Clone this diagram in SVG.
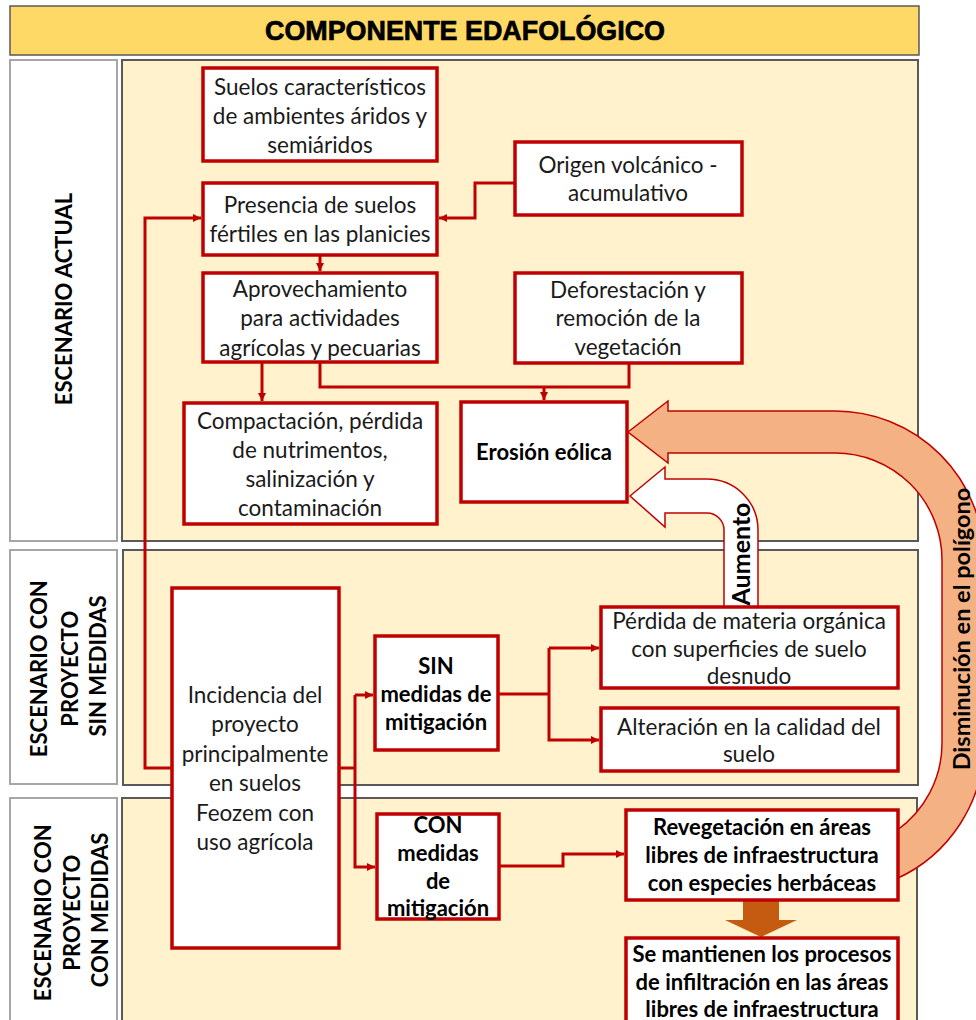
<svg xmlns="http://www.w3.org/2000/svg" width="976" height="1020" viewBox="0 0 976 1020">
  <defs>
    <marker id="arr" viewBox="0 0 8 8" refX="8" refY="4" markerWidth="8" markerHeight="8" markerUnits="userSpaceOnUse" orient="auto">
      <path d="M0,0 L8,4 L0,8 z" fill="#C00000"/>
    </marker>
    <style>
      .panel-label { fill: #ffffff; stroke: #a6a6a6; stroke-width: 2; }
      .panel { fill: #FFF2CC; stroke: #595959; stroke-width: 2; }
      .box { fill: #ffffff; stroke: #C00000; stroke-width: 3.5; }
      .conn { fill: none; stroke: #C00000; stroke-width: 3; marker-end: url(#arr); }
      .line { fill: none; stroke: #C00000; stroke-width: 3; }
      .t { font-family: Lato, "Open Sans", "Liberation Sans", sans-serif; font-size: 22.5px; fill: #1a1a1a; text-anchor: middle; }
      .b { font-family: Lato, "Open Sans", "Liberation Sans", sans-serif; font-size: 22px; font-weight: bold; fill: #000000; text-anchor: middle; }
      .lab { font-family: Lato, "Open Sans", "Liberation Sans", sans-serif; font-size: 22px; font-weight: bold; fill: #000000; text-anchor: middle; }
    </style>
  </defs>

  <!-- title bar -->
  <g id="title">
    <rect x="10" y="6" width="909" height="49" fill="#FFD966" stroke="#595959" stroke-width="1.5"/>
    <text x="465" y="40" font-family="'Liberation Sans', Arial, sans-serif" font-size="27" font-weight="bold" stroke="#000000" stroke-width="0.7" text-anchor="middle" textLength="400" lengthAdjust="spacingAndGlyphs">COMPONENTE EDAFOLÓGICO</text>
  </g>

  <!-- scenario bands -->
  <g id="bands">
    <rect class="panel-label" x="10" y="60" width="107" height="481"/>
    <rect class="panel" x="122" y="60" width="796" height="481"/>
    <rect class="panel-label" x="10" y="550" width="107" height="234"/>
    <rect class="panel" x="123" y="550" width="795" height="235"/>
    <rect class="panel-label" x="10" y="798" width="107" height="240"/>
    <rect class="panel" x="122" y="798" width="795" height="240"/>
    <text class="lab" transform="translate(64,299) rotate(-90)" y="8">ESCENARIO ACTUAL</text>
    <text class="lab" transform="translate(69,666) rotate(-90)">
      <tspan x="0" y="-22">ESCENARIO CON</tspan>
      <tspan x="0" y="9">PROYECTO</tspan>
      <tspan x="0" y="37">SIN MEDIDAS</tspan>
    </text>
    <text class="lab" transform="translate(72,910) rotate(-90)">
      <tspan x="0" y="-21">ESCENARIO CON</tspan>
      <tspan x="0" y="8">PROYECTO</tspan>
      <tspan x="0" y="36">CON MEDIDAS</tspan>
    </text>
  </g>

  <!-- connectors -->
  <g id="connectors">
    <path class="conn" d="M515,183 H475 V218 H439"/>
    <path class="conn" d="M172,768 H145 V218 H201"/>
    <path class="conn" d="M320,255 V271"/>
    <path class="conn" d="M262,362 V401"/>
    <path class="line" d="M320,362 V387 H629 V363"/>
    <path class="conn" d="M544,387 V400"/>
    <path class="line" d="M339,768 H355"/>
    <path class="conn" d="M355,695 V867 H375"/>
    <path class="conn" d="M355,695 H373"/>
    <path class="line" d="M498,694 H549"/>
    <path class="conn" d="M549,648 V740 H599"/>
    <path class="conn" d="M549,648 H599"/>
    <path class="conn" d="M499,866 H563 V854 H624"/>
  </g>

  <!-- block arrows -->
  <g id="arrow-aumento">
    <path d="M630,496 L665,467 L665,479 L707,479 A51,51 0 0 1 758,530 L758,607 L724,607 L724,530 A17,17 0 0 0 707,513 L665,513 L665,527 Z" fill="#ffffff" stroke="#C00000" stroke-width="1.5"/>
    <text class="b" style="font-size:25px" transform="translate(741,554) rotate(-90)" y="9">Aumento</text>
  </g>
  <g id="arrow-disminucion">
    <path d="M628,432 L668,401 L668,411 L835,411 A149,149 0 0 1 984,560 L984,743 A149,149 0 0 1 896,879 L896,831 A107,107 0 0 0 942,743 L942,560 A107,107 0 0 0 835,453 L668,453 L668,463 Z" fill="#F4B183" stroke="#C00000" stroke-width="1.5"/>
    <text class="b" style="font-size:23.5px" transform="translate(962,629) rotate(-90)" y="8">Disminución en el polígono</text>
  </g>
  <g id="arrow-down">
    <path d="M743,901 H779 V920 H797 L761,937 L725,920 H743 Z" fill="#C55A11"/>
  </g>

  <!-- nodes -->
  <g id="suelos-aridos">
    <rect class="box" x="203" y="68" width="234" height="93"/>
    <text class="t"><tspan x="320" y="95">Suelos característicos</tspan><tspan x="320" y="124">de ambientes áridos y</tspan><tspan x="320" y="153">semiáridos</tspan></text>
  </g>
  <g id="suelos-fertiles">
    <rect class="box" x="203" y="183" width="234" height="72"/>
    <text class="t"><tspan x="320" y="213">Presencia de suelos</tspan><tspan x="320" y="242">fértiles en las planicies</tspan></text>
  </g>
  <g id="aprovechamiento">
    <rect class="box" x="203" y="273" width="234" height="89"/>
    <text class="t"><tspan x="320" y="297">Aprovechamiento</tspan><tspan x="320" y="326">para actividades</tspan><tspan x="320" y="356">agrícolas y pecuarias</tspan></text>
  </g>
  <g id="compactacion">
    <rect class="box" x="184" y="403" width="253" height="121"/>
    <text class="t"><tspan x="310" y="429">Compactación, pérdida</tspan><tspan x="310" y="458">de nutrimentos,</tspan><tspan x="310" y="487">salinización y</tspan><tspan x="310" y="516">contaminación</tspan></text>
  </g>
  <g id="origen">
    <rect class="box" x="515" y="142" width="227" height="73"/>
    <text class="t"><tspan x="628" y="173">Origen volcánico -</tspan><tspan x="628" y="201">acumulativo</tspan></text>
  </g>
  <g id="deforestacion">
    <rect class="box" x="515" y="273" width="227" height="90"/>
    <text class="t"><tspan x="628" y="298">Deforestación y</tspan><tspan x="628" y="326">remoción de la</tspan><tspan x="628" y="355">vegetación</tspan></text>
  </g>
  <g id="erosion">
    <rect class="box" x="461" y="402" width="166" height="100"/>
    <text class="b" x="544" y="460">Erosión eólica</text>
  </g>
  <g id="incidencia">
    <rect class="box" x="172" y="588" width="167" height="360"/>
    <text class="t"><tspan x="255" y="703">Incidencia del</tspan><tspan x="255" y="732">proyecto</tspan><tspan x="255" y="762">principalmente</tspan><tspan x="255" y="791">en suelos</tspan><tspan x="255" y="821">Feozem con</tspan><tspan x="255" y="850">uso agrícola</tspan></text>
  </g>
  <g id="sin-medidas">
    <rect class="box" x="375" y="636" width="123" height="114"/>
    <text class="b"><tspan x="436" y="674">SIN</tspan><tspan x="436" y="702">medidas de</tspan><tspan x="436" y="730">mitigación</tspan></text>
  </g>
  <g id="con-medidas">
    <rect class="box" x="377" y="814" width="122" height="105"/>
    <text class="b"><tspan x="438" y="833">CON</tspan><tspan x="438" y="861">medidas</tspan><tspan x="438" y="889">de</tspan><tspan x="438" y="916">mitigación</tspan></text>
  </g>
  <g id="perdida">
    <rect class="box" x="601" y="607" width="297" height="81"/>
    <text class="t"><tspan x="749" y="629">Pérdida de materia orgánica</tspan><tspan x="749" y="657">con superficies de suelo</tspan><tspan x="749" y="684">desnudo</tspan></text>
  </g>
  <g id="alteracion">
    <rect class="box" x="601" y="708" width="297" height="63"/>
    <text class="t"><tspan x="749" y="735">Alteración en la calidad del</tspan><tspan x="749" y="762">suelo</tspan></text>
  </g>
  <g id="revegetacion">
    <rect class="box" x="626" y="810" width="272" height="90"/>
    <text class="b"><tspan x="762" y="835">Revegetación en áreas</tspan><tspan x="762" y="863">libres de infraestructura</tspan><tspan x="762" y="891">con especies herbáceas</tspan></text>
  </g>
  <g id="infiltracion">
    <rect class="box" x="626" y="938" width="272" height="100"/>
    <text class="b"><tspan x="762" y="962">Se mantienen los procesos</tspan><tspan x="762" y="990">de infiltración en las áreas</tspan><tspan x="762" y="1017">libres de infraestructura</tspan></text>
  </g>
</svg>
